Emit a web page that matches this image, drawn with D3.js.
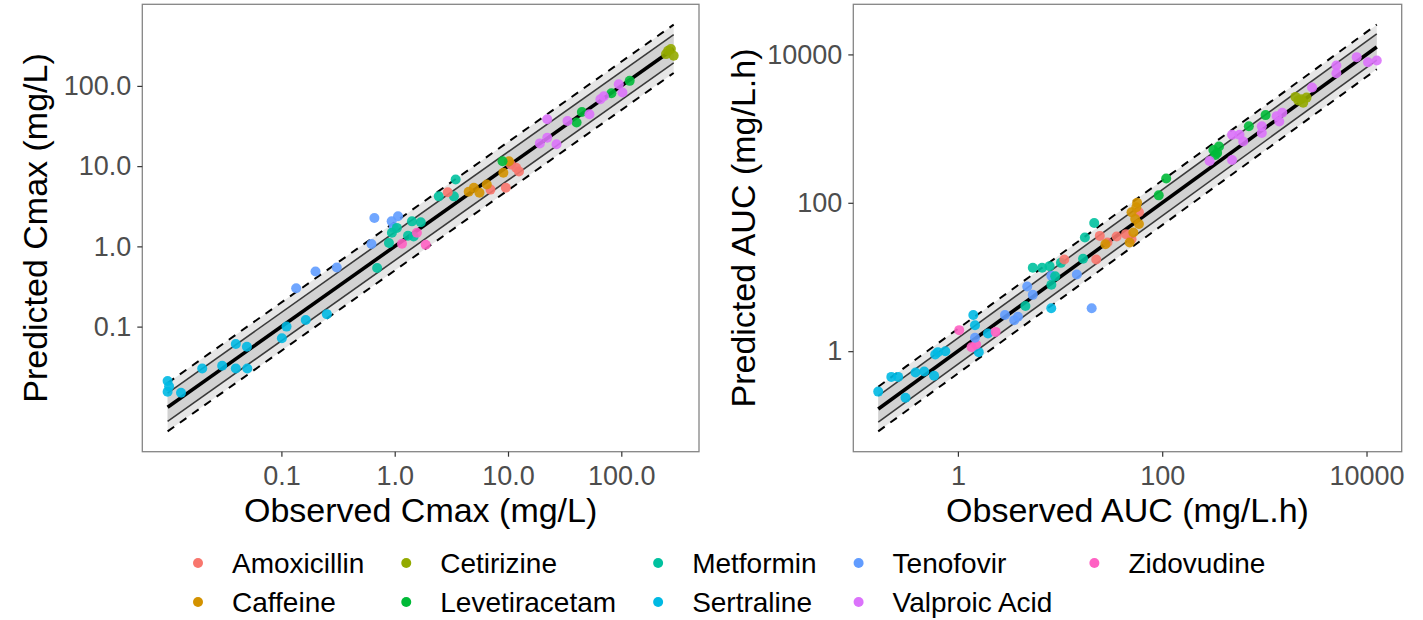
<!DOCTYPE html>
<html>
<head>
<meta charset="utf-8">
<script src="https://cdn.jsdelivr.net/npm/d3@7"></script>
<style>
  body { margin: 0; background: #fff; }
  svg { display: block; }
  text { font-family: "Liberation Sans", Arial, Helvetica, sans-serif; }
</style>
</head>
<body>
<svg id="chart" width="1423" height="620"></svg>
<script>
// Drugs and their colours (ggplot hue palette)
const drugs = ["Amoxicillin", "Caffeine", "Cetirizine", "Levetiracetam", "Metformin",
               "Sertraline", "Tenofovir", "Valproic Acid", "Zidovudine"];
const drugColors = ["#F8766D", "#D39200", "#93AA00", "#00BA38", "#00C19F",
                    "#00B9E3", "#619CFF", "#DB72FB", "#FF61C3"];

// Cmax (mg/L): drug index, observed, predicted
const cmaxDrug = [
  5,5,5,5,5,5,5,5,5,5,5,5,5,5,
  6,6,6,6,6,6,6,6,
  4,4,4,4,4,4,4,4,4,4,4,
  8,8,8,
  0,0,0,0,0,0,
  1,1,1,1,1,1,
  3,3,3,3,3,
  7,7,7,7,7,7,7,7,7,7,
  2,2,2,2
];
const cmaxObserved = [
  0.0099,0.0099,0.0102,0.013,0.020,0.030,0.0396,0.0496,0.0396,0.050,0.101,0.111,0.164,0.252,
  0.135,0.20,0.308,0.624,0.662,0.94,1.07,0.98,
  0.70,0.89,0.945,1.045,1.42,1.70,1.47,1.31,2.45,3.45,3.33,
  1.16,1.88,1.57,
  2.94,7.0,9.57,11.8,10.6,12.5,
  5.0,5.6,6.5,4.5,9.1,10.2,
  8.95,40.3,44.9,81.8,118.6,
  22.2,19.1,22.2,26.8,33.5,52.3,65.4,70.2,95.0,102.3,
  259,290,248,274
];
const cmaxPredicted = [
  0.021,0.0154,0.018,0.015,0.030,0.0326,0.0608,0.056,0.030,0.030,0.0716,0.100,0.121,0.143,
  0.30,0.487,0.546,1.07,2.26,2.05,2.37,1.71,
  0.537,1.10,1.48,1.70,2.05,2.0,1.33,1.36,4.2,6.8,4.2,
  1.08,1.05,1.48,
  4.73,5.1,5.37,9.55,10.5,8.6,
  5.37,4.65,5.9,4.8,8.27,11.5,
  11.5,34.9,47.3,81,115.5,
  38.4,19.2,22.6,18.7,36.5,44.3,68.2,74.3,105,82.7,
  274,237,249,288
];

// AUC (mg/L.h): drug index, observed, predicted
const aucDrug = [
  5,5,5,5,5,5,5,5,5,5,5,5,5,5,5,
  8,8,8,8,
  6,6,6,6,6,6,6,6,6,
  4,4,4,4,4,4,4,4,4,4,
  0,0,0,0,0,0,0,0,
  1,1,1,1,1,1,1,1,
  3,3,3,3,3,3,3,3,
  7,7,7,7,7,7,7,7,7,7,7,7,7,7,7,7,
  2,2,2,2,2
];
const aucObserved = [
  0.166,0.223,0.26,0.307,0.385,0.468,0.585,0.60,0.753,0.637,1.415,1.47,1.60,1.97,8.2,
  1.03,1.36,1.51,2.34,
  1.47,2.89,3.56,3.87,4.77,5.41,8.22,14.6,20.4,
  4.58,5.41,6.67,7.9,8.96,10.2,8.22,17.5,21.6,16.8,
  11.0,22.6,24.5,29.1,35.8,44.2,50.1,59.2,
  27.8,48.0,52.2,54.4,55.8,59.2,50.1,56.8,
  92.5,109.4,317,360,345,331,705,1028,
  291,483,483,571,621,944,944,1321,1499,1400,2931,5070,5070,8020,10350,12600,
  2014,2282,2588,2400,2150
];
const aucPredicted = [
  0.285,0.45,0.45,0.236,0.517,0.533,0.466,0.90,1.0,0.97,3.07,2.24,0.97,1.73,3.79,
  1.92,1.13,1.23,1.82,
  1.52,3.07,2.62,2.91,7.46,5.74,10.4,10.8,3.79,
  4.07,13.3,13.3,14.0,10.2,15.5,7.87,34.1,53.3,17.6,
  17.2,17.2,35.8,29.1,35.2,37.8,32.3,74.7,
  27.6,29.1,39.8,60.5,87.3,51.7,74.7,100,
  126,212,516,574,470,442,1076,1521,
  366,378,828,828,672,872,1072,1472,1634,1250,3581,7080,5560,9190,7850,8280,
  2675,2483,2618,2239,2400
];

// Axis ticks
const cmaxTicks = [0.1, 1, 10, 100];
const aucTicks = [1, 100, 10000];

// Fold-error bands
const innerFold = 1.5;
const outerFold = 2;

const svg = d3.select("#chart");

// Log domain padded by 5% on each side, like ggplot's default expansion
function expandedLog(lo, hi) {
  const a = Math.log10(lo), b = Math.log10(hi), pad = (b - a) * 0.05;
  return [Math.pow(10, a - pad), Math.pow(10, b + pad)];
}

function drawPanel(cfg) {
  const { left, right, top, bottom, drug, observed, predicted, xTicks, yTicks,
          fmt, xTitle, yTitle, yTitleX } = cfg;
  const xLo = d3.min(observed), xHi = d3.max(observed);
  const yLo = Math.min(xLo / outerFold, d3.min(predicted));
  const yHi = Math.max(xHi * outerFold, d3.max(predicted));

  const x = d3.scaleLog().domain(expandedLog(xLo, xHi)).range([left, right]);
  const y = d3.scaleLog().domain(expandedLog(yLo, yHi)).range([bottom, top]);

  const g = svg.append("g");
  const span = [xLo, xHi];

  // Shaded bands
  const band = f => d3.area().x(d => x(d)).y0(d => y(d / f)).y1(d => y(d * f));
  g.append("path").datum(span).attr("d", band(outerFold)).attr("fill", "#e6e6e6");
  g.append("path").datum(span).attr("d", band(innerFold)).attr("fill", "#d2d2d2");

  // Reference lines
  const ref = f => d3.line().x(d => x(d)).y(d => y(d * f));
  [outerFold, 1 / outerFold].forEach(f => {
    g.append("path").datum(span).attr("d", ref(f))
      .attr("fill", "none").attr("stroke", "#000").attr("stroke-width", 2)
      .attr("stroke-dasharray", "8,7");
  });
  [innerFold, 1 / innerFold].forEach(f => {
    g.append("path").datum(span).attr("d", ref(f))
      .attr("fill", "none").attr("stroke", "#3a3a3a").attr("stroke-width", 1.6);
  });
  g.append("path").datum(span).attr("d", ref(1))
    .attr("fill", "none").attr("stroke", "#000").attr("stroke-width", 3.6);

  // Points
  g.append("g").selectAll("circle").data(d3.range(observed.length)).join("circle")
    .attr("cx", i => x(observed[i]))
    .attr("cy", i => y(predicted[i]))
    .attr("r", 5)
    .attr("fill", i => drugColors[drug[i]])
    .attr("fill-opacity", 0.9);

  // Panel border
  g.append("rect").attr("x", left).attr("y", top)
    .attr("width", right - left).attr("height", bottom - top)
    .attr("fill", "none").attr("stroke", "#858585").attr("stroke-width", 1.3);

  // Axes
  const styleAxis = sel => {
    sel.select(".domain").remove();
    sel.selectAll(".tick line").attr("stroke", "#333").attr("stroke-width", 1.2);
    sel.selectAll(".tick text").attr("fill", "#4d4d4d")
      .style("font-size", "27px");
  };
  svg.append("g").attr("transform", `translate(0,${bottom})`)
    .call(d3.axisBottom(x).tickValues(xTicks).tickFormat(fmt).tickSize(5).tickPadding(9))
    .call(styleAxis);
  svg.append("g").attr("transform", `translate(${left},0)`)
    .call(d3.axisLeft(y).tickValues(yTicks).tickFormat(fmt).tickSize(5).tickPadding(6))
    .call(styleAxis);

  // Axis titles
  svg.append("text").attr("x", (left + right) / 2).attr("y", 522)
    .attr("text-anchor", "middle").style("font-size", "34px").attr("fill", "#000")
    .text(xTitle);
  svg.append("text")
    .attr("transform", `translate(${yTitleX},${(top + bottom) / 2}) rotate(-90)`)
    .attr("text-anchor", "middle").style("font-size", "34px").attr("fill", "#000")
    .text(yTitle);
}

drawPanel({
  left: 142.3, right: 699, top: 4.3, bottom: 451.7,
  drug: cmaxDrug, observed: cmaxObserved, predicted: cmaxPredicted,
  xTicks: cmaxTicks, yTicks: cmaxTicks, fmt: d3.format(".1f"),
  xTitle: "Observed Cmax (mg/L)", yTitle: "Predicted Cmax (mg/L)", yTitleX: 47
});

drawPanel({
  left: 853.3, right: 1401.7, top: 4.3, bottom: 451.7,
  drug: aucDrug, observed: aucObserved, predicted: aucPredicted,
  xTicks: aucTicks, yTicks: aucTicks, fmt: d3.format("d"),
  xTitle: "Observed AUC (mg/L.h)", yTitle: "Predicted AUC (mg/L.h)", yTitleX: 755
});

// Legend: two rows, filled column by column
const legend = svg.append("g");
const rowY = [563, 602];
const textGap = 34, colGap = 42;
let colX = 198;
for (let c = 0; c * 2 < drugs.length; c++) {
  const items = [c * 2, c * 2 + 1].filter(i => i < drugs.length);
  let maxW = 0;
  items.forEach((i, r) => {
    legend.append("circle").attr("cx", colX).attr("cy", rowY[r]).attr("r", 5)
      .attr("fill", drugColors[i]);
    const t = legend.append("text").attr("x", colX + textGap).attr("y", rowY[r] + 9.8)
      .style("font-size", "28px").attr("fill", "#000").text(drugs[i]);
    maxW = Math.max(maxW, t.node().getComputedTextLength());
  });
  colX += textGap + maxW + colGap;
}
</script>
</body>
</html>
